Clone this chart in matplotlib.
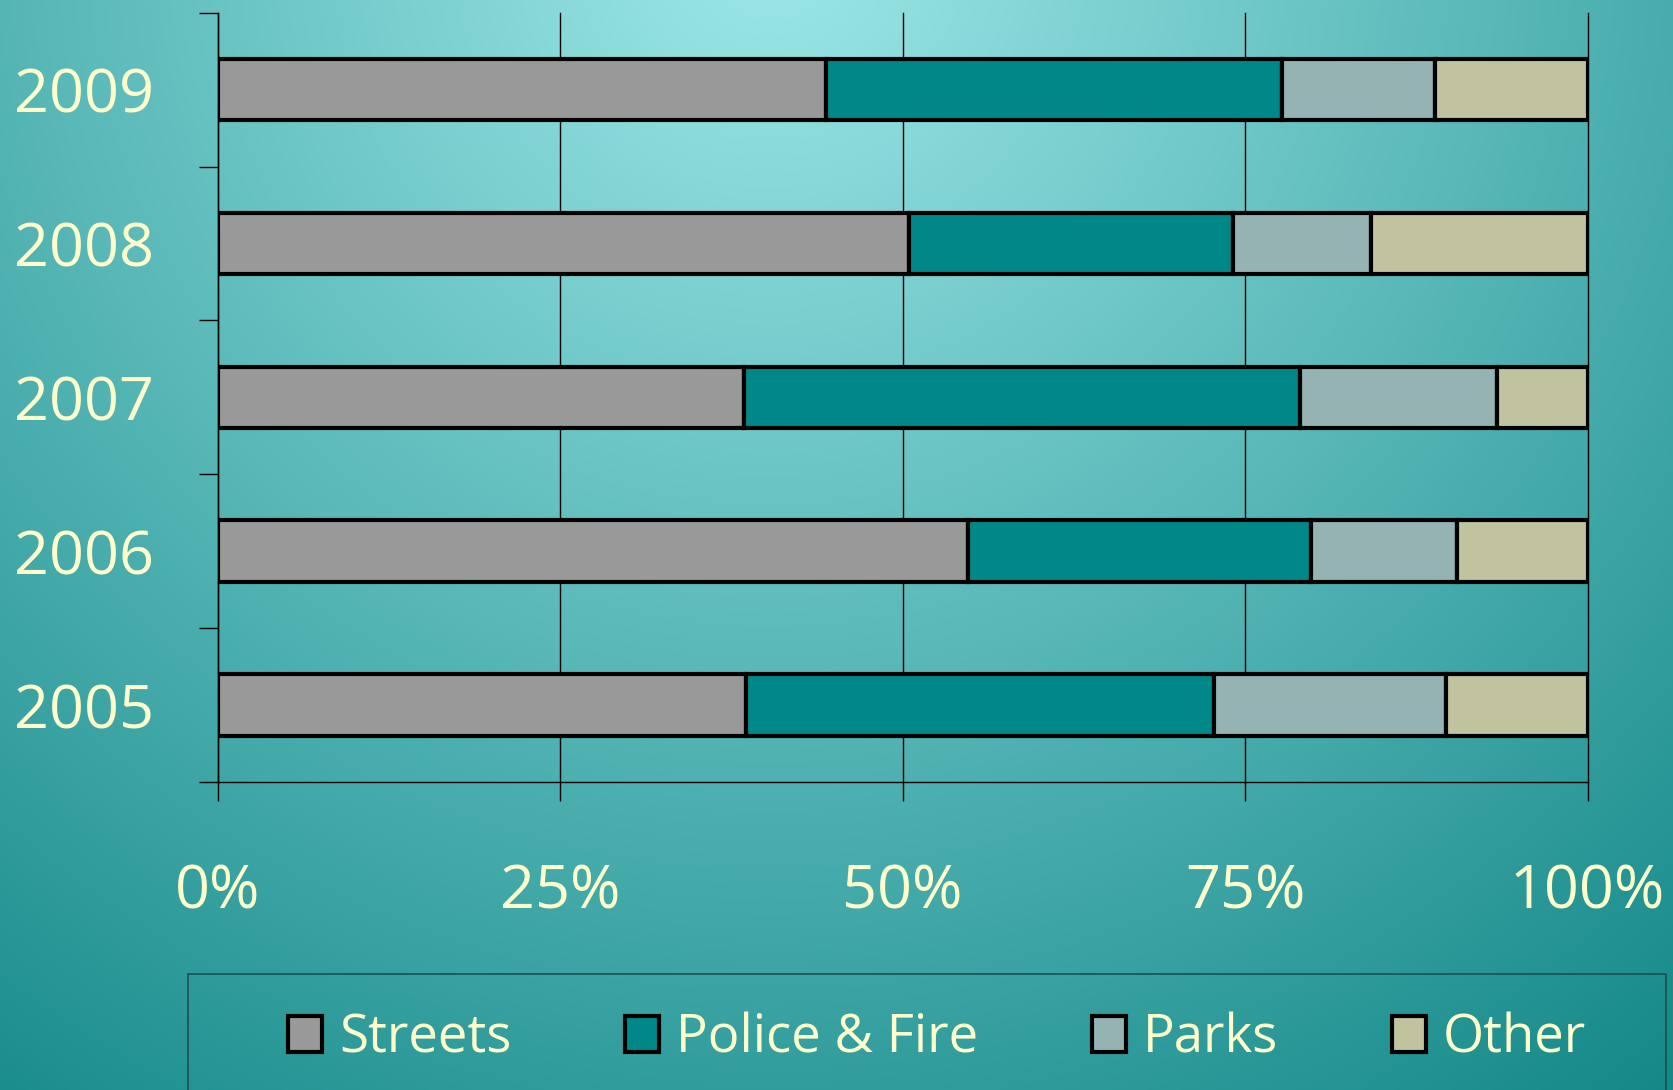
import numpy as np
import matplotlib.pyplot as plt
from matplotlib.colors import to_rgb
from matplotlib.patches import Rectangle

# share of spending per year, in percent
years = ['2005', '2006', '2007', '2008', '2009']
streets = [38.6, 54.8, 38.4, 50.5, 44.4]
police_fire = [34.1, 25.0, 40.6, 23.6, 33.3]
parks = [17.0, 10.7, 14.4, 10.1, 11.2]
other = [10.3, 9.5, 6.6, 15.8, 11.1]

series_names = ['Streets', 'Police & Fire', 'Parks', 'Other']
series_colors = ['#999999', '#008888', '#95B3B3', '#C0C39E']
x_ticks = [0, 25, 50, 75, 100]
x_tick_labels = ['0%', '25%', '50%', '75%', '100%']

text_color = '#FFFFCC'
plt.rcParams['font.family'] = ['Open Sans', 'DejaVu Sans']

fig = plt.figure(figsize=(16.73, 10.90), dpi=100)

# teal background, light near the top centre, darker toward the bottom corners
bg = fig.add_axes([0, 0, 1, 1], zorder=-10)
W, H = 1673, 1090
xx, yy = np.meshgrid(np.arange(W), np.arange(H))
dist = np.sqrt((xx - 0.46 * W) ** 2 + (yy + 0.05 * H) ** 2)
t = np.clip(dist / 1500.0, 0, 1)[..., None]
c0 = np.array(to_rgb('#9EE8E8'))
c1 = np.array(to_rgb('#108585'))
bg.imshow(c0 * (1 - t) + c1 * t, aspect='auto', extent=[0, 1, 0, 1])
bg.axis('off')

ax = fig.add_axes([0.1301, 0.2826, 0.8188, 0.7057])
ax.patch.set_alpha(0)

y = np.arange(len(years))
left = np.zeros(len(years))
for name, vals, col in zip(series_names, [streets, police_fire, parks, other], series_colors):
    ax.barh(y, vals, left=left, height=0.4, color=col, edgecolor='black',
            linewidth=3, label=name, zorder=3)
    left += np.array(vals)

ax.set_xlim(0, 100)
ax.set_ylim(-0.5, 4.5)
ax.set_xticks(x_ticks)
ax.set_xticklabels(x_tick_labels)
ax.set_yticks(y)
ax.set_yticklabels(years, va='center_baseline')
ax.set_yticks(np.arange(-0.5, 5, 1), minor=True)

ax.tick_params(axis='x', length=14, width=1, color='black', pad=44,
               labelsize=44, labelcolor=text_color)
ax.tick_params(axis='y', which='major', length=0, pad=46,
               labelsize=44, labelcolor=text_color)
ax.tick_params(axis='y', which='minor', length=14, width=1, color='black')

ax.grid(axis='x', color='black', linewidth=1, zorder=0)
ax.set_axisbelow(True)
for g in ax.get_xgridlines():
    g.set_clip_on(False)
ax.spines['top'].set_visible(False)
ax.spines['right'].set_visible(False)
ax.spines['left'].set_linewidth(1)
ax.spines['bottom'].set_linewidth(1)

# legend box runs off the bottom edge like in the slide
fig.patches.append(Rectangle((0.1124, -0.05), 0.8834, 0.1564, transform=fig.transFigure,
                             fill=False, edgecolor='#1F4F4F', linewidth=1.2))
leg = fig.legend(loc='center', bbox_to_anchor=(0.56, 0.047), ncol=4, frameon=False,
                 fontsize=38, handlelength=0.65, handleheight=0.65,
                 handletextpad=0.32, columnspacing=2.15)
for txt in leg.get_texts():
    txt.set_color(text_color)

fig.savefig('out.png', dpi=100)
